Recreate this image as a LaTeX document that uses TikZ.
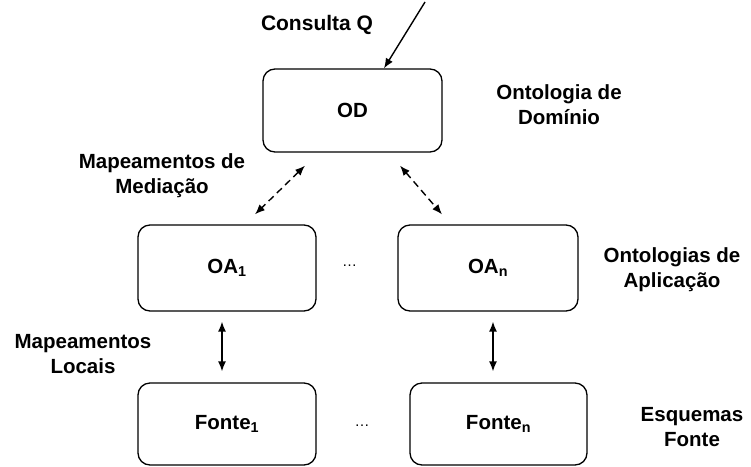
\documentclass[tikz,border=0pt]{standalone}
\usepackage{fontspec}
\setmainfont{Liberation Sans}
\usetikzlibrary{arrows.meta,calc}
\begin{document}
\begin{tikzpicture}[x=1pt,y=-1pt,
  box/.style={draw=black,line width=1.3pt,rounded corners=12pt,inner sep=0pt,
    minimum width=178pt,minimum height=84pt,font=\bfseries\fontsize{20.5}{25}\selectfont},
  lbl/.style={align=center,inner sep=0pt,font=\bfseries\fontsize{20.5}{25}\selectfont},
  dots/.style={inner sep=0pt,anchor=base,font=\fontsize{15}{18}\selectfont},
  arr/.style={line width=1.4pt,-{Latex[length=10pt,width=8pt]}},
  darr/.style={line width=1.4pt,{Latex[length=10pt,width=8pt]}-{Latex[length=10pt,width=8pt]}},
  ddarr/.style={darr,dash pattern=on 7pt off 4.5pt}]
\useasboundingbox (0,0) rectangle (751,466);
% boxes
\node[box,minimum width=179pt,minimum height=83pt] (OD) at (352.5,110.5) {OD};
\node[box,minimum height=86pt] (OA1) at (227,268) {OA\textsubscript{1}};
\node[box,minimum width=180pt,minimum height=86pt] (OAn) at (488,268) {OA\textsubscript{n}};
\node[box,minimum height=82pt] (F1) at (227,424) {Fonte\textsubscript{1}};
\node[box,minimum width=177pt,minimum height=82pt] (Fn) at (498.5,424) {Fonte\textsubscript{n}};
% dots
\node[dots] (d1) at (349.5,266) {…};
\node[dots] (d2) at (362,426) {…};
% labels
\node[lbl,font=\bfseries\fontsize{21}{25}\selectfont] (cq) at (317,25) {Consulta Q};
\node[lbl] (lod) at (559,104.5) {Ontologia de\\Domínio};
\node[lbl] (lmm) at (162,176) {Mapeamentos de\\Mediação};
\node[lbl] (loa) at (672,269.5) {Ontologias de\\Aplicação};
\node[lbl] (lml) at (83,354) {Mapeamentos\\Locais};
\node[lbl] (lef) at (692,427.5) {Esquemas\\Fonte};
% connectors
\coordinate (qs) at (425,2);
\draw[arr] (qs) -- ([xshift=31.5pt]OD.north);
\draw[ddarr] ([xshift=-47.5pt,yshift=-13pt]OD.south) -- ([xshift=28pt,yshift=10pt]OA1.north);
\draw[ddarr] ([xshift=47.5pt,yshift=-13pt]OD.south) -- ([xshift=-46pt,yshift=10pt]OAn.north);
\draw[darr] ([xshift=-5pt,yshift=-10pt]OA1.south) -- ([xshift=-5pt,yshift=11pt]F1.north);
\draw[darr] ([xshift=5pt,yshift=-10pt]OAn.south) -- ([xshift=-5.5pt,yshift=11pt]Fn.north);
\end{tikzpicture}
\end{document}
